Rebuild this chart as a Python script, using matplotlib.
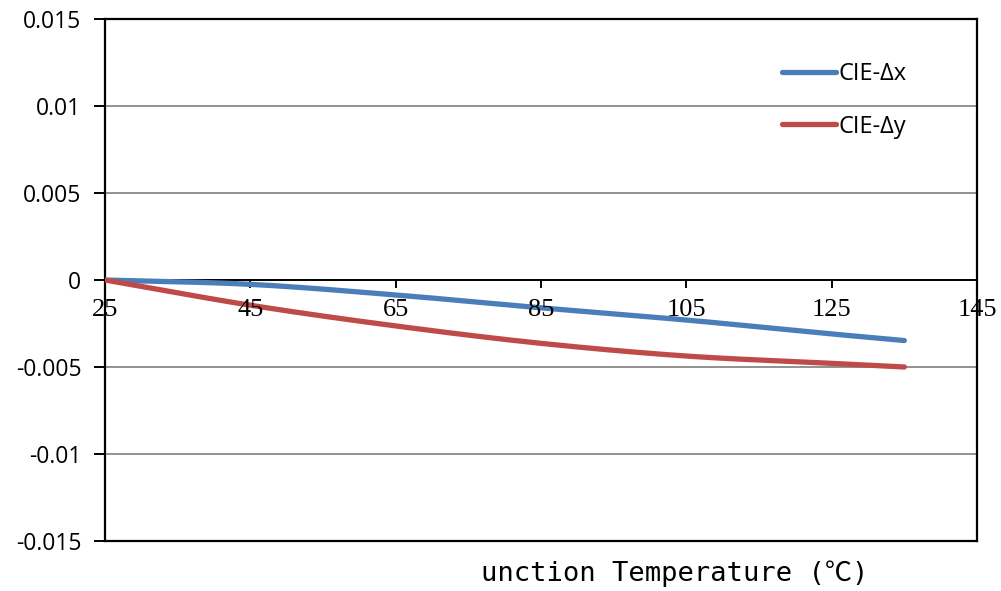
import numpy as np
import matplotlib
matplotlib.use("Agg")
import matplotlib.pyplot as plt

temps = [25, 45, 65, 85, 105, 125, 135]
cie_dx = [0.0, -0.00025, -0.00086, -0.0016, -0.0023, -0.0031, -0.00348]
cie_dy = [0.0, -0.00145, -0.00264, -0.00364, -0.00437, -0.00479, -0.0050]
x_ticks = [25, 45, 65, 85, 105, 125, 145]
y_ticks = [-0.015, -0.01, -0.005, 0, 0.005, 0.01, 0.015]
y_tick_labels = ["-0.015", "-0.01", "-0.005", "0", "0.005", "0.01", "0.015"]
series_names = ["CIE-Δx", "CIE-Δy"]
x_label = "unction Temperature (℃)"


def smooth(xs, ys, n=40):
    # cubic Hermite smoothing through the points (like spreadsheet smoothed lines)
    xs = np.asarray(xs, float)
    ys = np.asarray(ys, float)
    m = np.empty_like(ys)
    m[1:-1] = (ys[2:] - ys[:-2]) / (xs[2:] - xs[:-2])
    m[0] = (ys[1] - ys[0]) / (xs[1] - xs[0])
    m[-1] = (ys[-1] - ys[-2]) / (xs[-1] - xs[-2])
    ox, oy = [], []
    for i in range(len(xs) - 1):
        h = xs[i + 1] - xs[i]
        t = np.linspace(0, 1, n)
        h00 = 2 * t**3 - 3 * t**2 + 1
        h10 = t**3 - 2 * t**2 + t
        h01 = -2 * t**3 + 3 * t**2
        h11 = t**3 - t**2
        ox.append(xs[i] + t * h)
        oy.append(h00 * ys[i] + h10 * h * m[i] + h01 * ys[i + 1] + h11 * h * m[i + 1])
    return np.concatenate(ox), np.concatenate(oy)


fig = plt.figure(figsize=(10.01, 5.91), dpi=100)
ax = fig.add_axes([105 / 1001, 1 - 541 / 591, (977 - 105) / 1001, (541 - 19) / 591])
ax.set_xlim(25, 145)
ax.set_ylim(-0.015, 0.015)

for v in [-0.01, -0.005, 0.005, 0.01]:
    ax.axhline(v, color="#909090", lw=1.4, zorder=1)

colors = ["#4A7EBB", "#BE4B48"]
for ys, col, name in zip([cie_dx, cie_dy], colors, series_names):
    sx, sy = smooth(temps, ys)
    ax.plot(sx, sy, color=col, lw=3.8, solid_capstyle="round", label=name, zorder=3)

for s in ax.spines.values():
    s.set_color("black")
    s.set_linewidth(1.6)
# x axis at y=0
ax.axhline(0, color="black", lw=1.4, zorder=2)

ax.set_yticks(y_ticks)
ax.set_yticklabels(y_tick_labels, fontsize=16.5, family=["Open Sans", "DejaVu Sans"])
ax.tick_params(axis="y", direction="out", length=8, width=1.4, pad=9, colors="black")

ax.set_xticks([])
for xt in x_ticks:
    ax.plot([xt, xt], [0, -0.0004], color="black", lw=1.4, zorder=2, clip_on=False)
    ax.text(xt, -0.0017, str(xt), ha="center", va="center", fontsize=19,
            family=["Liberation Serif", "DejaVu Serif"], zorder=4)

leg = ax.legend(loc="upper left", bbox_to_anchor=(0.752, 0.958), frameon=False,
                handlelength=2.3, handletextpad=0.1, labelspacing=1.2,
                prop={"family": ["Open Sans", "DejaVu Sans"], "size": 17})

fig.text(675 / 1001, 1 - 574 / 591, x_label, ha="center", va="center", fontsize=19.5,
         family=["DejaVu Sans Mono", "Noto Sans CJK JP"])

fig.savefig("out.png", dpi=100)
